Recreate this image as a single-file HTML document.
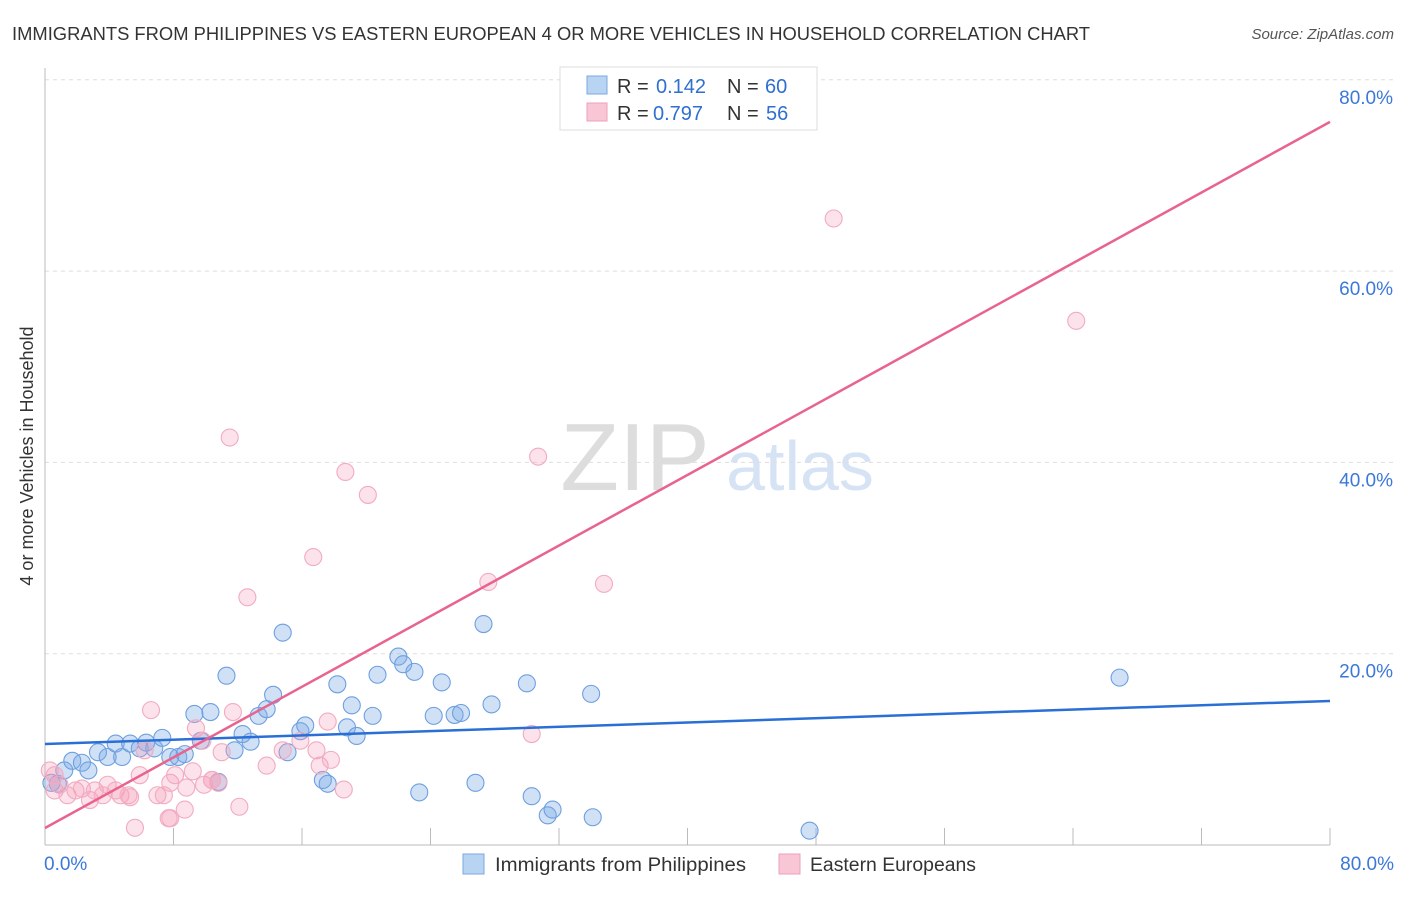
<!DOCTYPE html>
<html><head><meta charset="utf-8"><style>
body{margin:0;background:#fff;font-family:"Liberation Sans",sans-serif}
svg text{font-family:"Liberation Sans",sans-serif}
</style></head><body>
<svg id="c" width="1406" height="892">
<text x="12" y="40" font-size="18" fill="#333" textLength="1078" lengthAdjust="spacingAndGlyphs">IMMIGRANTS FROM PHILIPPINES VS EASTERN EUROPEAN 4 OR MORE VEHICLES IN HOUSEHOLD CORRELATION CHART</text>
<text x="1394" y="39" font-size="15" fill="#555" text-anchor="end" font-style="italic">Source: ZipAtlas.com</text>
<text x="635" y="490" font-size="96" fill="#ddd" font-family="Liberation Serif" text-anchor="middle">ZIP</text>
<text x="800" y="490" font-size="70" fill="#d5e3f5" text-anchor="middle">atlas</text>
<g id="grid"></g>
<g id="pts"></g>
<g id="lines"></g>
<text x="33" y="456" font-size="18" fill="#333" text-anchor="middle" transform="rotate(-90 33 456)">4 or more Vehicles in Household</text>
<g>
<rect x="560" y="67" width="257" height="63" fill="#fff" stroke="#ddd"/>
<rect x="587" y="76" width="20" height="18" fill="#b9d3f3" stroke="#7aa8e0"/>
<rect x="587" y="103" width="20" height="18" fill="#f9c6d5" stroke="#eea2ba"/>
<text x="617" y="93" font-size="20" fill="#333">R =</text><text x="656" y="93" font-size="20" fill="#2f6fd0">0.142</text>
<text x="727" y="93" font-size="20" fill="#333">N =</text><text x="765" y="93" font-size="20" fill="#2f6fd0">60</text>
<text x="617" y="120" font-size="20" fill="#333">R =</text><text x="653" y="120" font-size="20" fill="#2f6fd0">0.797</text>
<text x="727" y="120" font-size="20" fill="#333">N =</text><text x="766" y="120" font-size="20" fill="#2f6fd0">56</text>
</g>
<g>
<rect x="463" y="854" width="21" height="20" fill="#b9d3f3" stroke="#7aa8e0"/>
<text x="495" y="871" font-size="19" fill="#333" textLength="251" lengthAdjust="spacingAndGlyphs">Immigrants from Philippines</text>
<rect x="779" y="854" width="21" height="20" fill="#f9c6d5" stroke="#eea2ba"/>
<text x="810" y="871" font-size="19" fill="#333" textLength="166" lengthAdjust="spacingAndGlyphs">Eastern Europeans</text>
</g>
</svg>
<script>
const yTicks=[20,40,60,80];
const xTickLabels=["0.0%","80.0%"];
const blueX=[0.8,1.2,1.7,2.3,2.7,3.3,3.9,4.4,4.8,5.3,5.9,6.3,6.8,7.3,7.8,8.3,8.7,9.3,9.7,10.3,10.8,11.3,11.8,12.3,12.8,13.3,13.8,14.2,14.8,15.1,15.9,16.2,17.3,17.6,18.2,18.8,19.1,19.4,20.4,20.7,22.0,22.3,23.0,23.3,24.2,24.7,25.5,25.9,26.8,27.3,27.8,30.0,30.3,31.3,31.6,34.0,34.1,47.6,66.9,0.4];
const blueY=[6.4,7.8,8.8,8.6,7.8,9.7,9.2,10.6,9.2,10.6,10.1,10.7,10.1,11.2,9.2,9.2,9.5,13.7,10.9,13.9,6.6,17.7,9.9,11.6,10.8,13.5,14.2,15.7,22.2,9.7,11.9,12.5,6.8,6.4,16.8,12.3,14.6,11.4,13.5,17.8,19.7,18.9,18.1,5.5,13.5,17.0,13.6,13.8,6.5,23.1,14.7,16.9,5.1,3.1,3.7,15.8,2.9,1.5,17.5,6.5];
const pinkX=[0.3,0.6,0.9,1.4,1.9,2.3,2.8,3.1,3.6,3.9,4.4,4.7,5.2,5.3,5.9,6.2,6.6,7.0,7.4,7.7,7.8,8.1,8.7,8.8,9.2,9.4,9.8,9.9,10.4,10.8,11.0,11.5,11.7,12.1,12.6,13.8,14.8,15.9,16.7,16.9,17.1,17.6,17.8,18.6,18.7,20.1,27.6,30.3,30.7,34.8,49.1,64.2,5.6,7.8,10.4,0.6];
const pinkY=[7.8,5.7,6.3,5.2,5.7,5.9,4.7,5.7,5.2,6.3,5.7,5.2,5.2,5.0,7.3,9.9,14.1,5.2,5.2,2.8,6.5,7.3,3.7,6.0,7.7,12.2,10.9,6.3,6.8,6.5,9.7,42.6,13.9,4.0,25.9,8.3,9.9,10.9,30.1,9.9,8.3,12.9,8.9,5.8,39.0,36.6,27.5,11.6,40.6,27.3,65.5,54.8,1.8,2.8,6.8,7.3];
const blueLine=[10.56,15.06];
const pinkLine=[1.78,75.6];
const X=v=>45+v/80*1285, Y=v=>845-v/20*191.3;
const NS="http://www.w3.org/2000/svg";
function mk(t,a,p){const e=document.createElementNS(NS,t);for(const k in a)e.setAttribute(k,a[k]);p.appendChild(e);return e;}
const g=document.getElementById('grid');
yTicks.forEach(t=>{
 const l=mk('line',{x1:45,x2:1394,y1:Y(t),y2:Y(t),stroke:'#ddd','stroke-dasharray':'4,4'},g);
 
 
 const tx=mk('text',{x:1393,y:Y(t)+24,'font-size':19,fill:'#3b78d8','text-anchor':'end'},g);
 tx.textContent=t.toFixed(1)+'%';
 
 
});
mk('line',{x1:45,x2:45,y1:68,y2:845,stroke:'#bbb'},g);
mk('line',{x1:45,x2:1330,y1:845,y2:845,stroke:'#bbb'},g);
for(let i=1;i<=10;i++){const t=mk('line',{x1:X(i*8),x2:X(i*8),y1:828,y2:845,stroke:'#bbb'},g);
 
 }
[[0,'start',44],[80,'end',1394]].forEach((d,i)=>{const t=mk('text',{x:d[2],y:870,'font-size':19,fill:'#3b78d8','text-anchor':d[1]},g);t.textContent=xTickLabels[i];
 
 });
const p=document.getElementById('pts');
blueX.forEach((x,i)=>{const c=mk('circle',{cx:X(x),cy:Y(blueY[i]),r:8.5,fill:'rgba(120,170,230,0.35)',stroke:'#6e9fe0','stroke-width':1.1},p);
 
 });
pinkX.forEach((x,i)=>{const c=mk('circle',{cx:X(x),cy:Y(pinkY[i]),r:8.5,fill:'rgba(245,160,185,0.3)',stroke:'#f2abc0','stroke-width':1.1},p);
 
 });
const L=document.getElementById('lines');
const b=mk('line',{x1:X(0),x2:X(80),y1:Y(blueLine[0]),y2:Y(blueLine[1]),stroke:'#2a6fd6','stroke-width':2.5},L);


const q=mk('line',{x1:X(0),x2:X(80),y1:Y(pinkLine[0]),y2:Y(pinkLine[1]),stroke:'#e8638e','stroke-width':2.5},L);


</script>
</body></html>
